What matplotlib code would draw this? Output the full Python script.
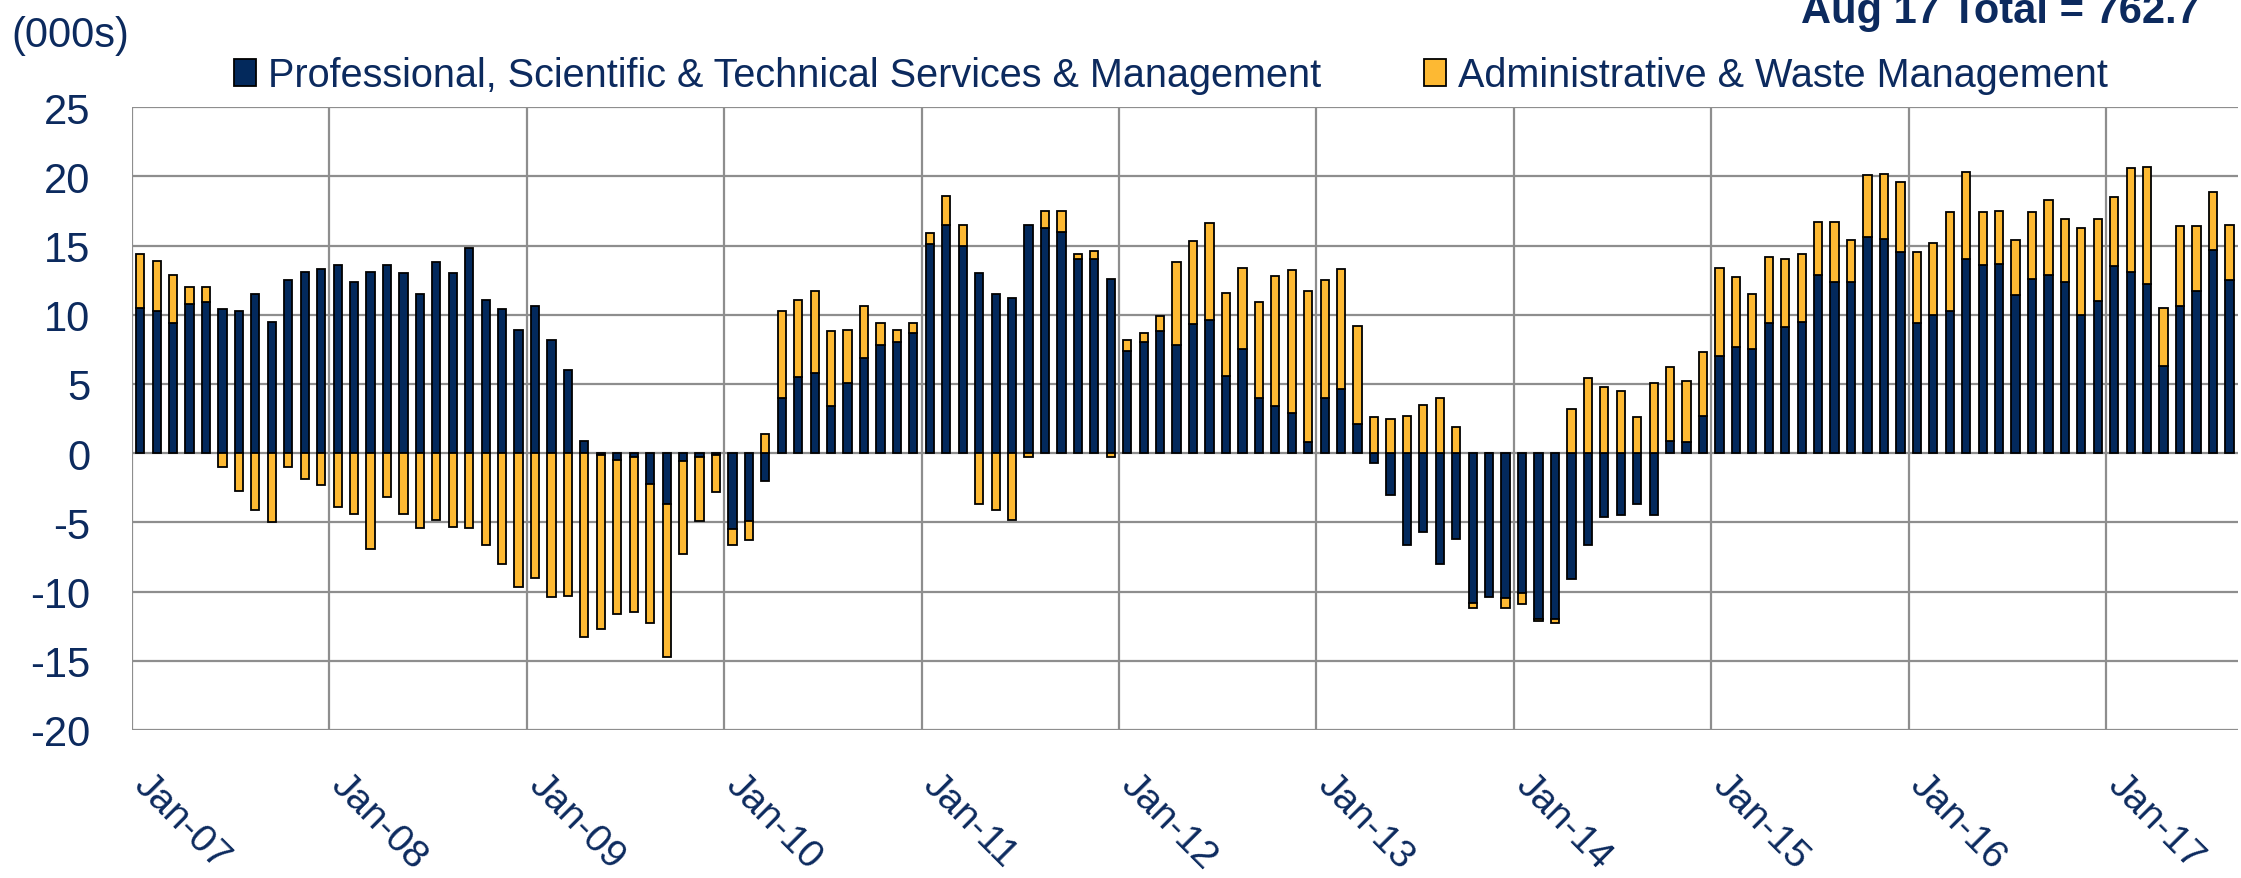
import matplotlib.pyplot as plt
import matplotlib.transforms as mtransforms
import numpy as np

plt.rcParams['font.family'] = ['Liberation Sans', 'DejaVu Sans']
plt.rcParams['axes.unicode_minus'] = False

# monthly change, thousands (Jan-07 .. Aug-17)
prof = [
    10.5, 10.3, 9.4, 10.8, 10.9, 10.4, 10.3, 11.5, 9.5, 12.5, 13.1, 13.3,      # 2007
    13.6, 12.4, 13.1, 13.6, 13.0, 11.5, 13.8, 13.0, 14.8, 11.1, 10.4, 8.9,     # 2008
    10.6, 8.2, 6.0, 0.9, -0.1, -0.5, -0.3, -2.2, -3.7, -0.6, -0.3, -0.1,       # 2009
    -5.5, -4.9, -2.0, 4.0, 5.5, 5.8, 3.4, 5.1, 6.9, 7.8, 8.0, 8.7,             # 2010
    15.1, 16.5, 15.0, 13.0, 11.5, 11.2, 16.5, 16.3, 16.0, 14.0, 14.0, 12.6,    # 2011
    7.4, 8.0, 8.8, 7.8, 9.3, 9.6, 5.6, 7.5, 4.0, 3.4, 2.9, 0.8,                # 2012
    4.0, 4.6, 2.1, -0.7, -3.0, -6.6, -5.7, -8.0, -6.2, -10.8, -10.4, -10.5,    # 2013
    -10.1, -12.0, -12.0, -9.1, -6.6, -4.6, -4.5, -3.7, -4.5, 0.9, 0.8, 2.7,    # 2014
    7.0, 7.7, 7.5, 9.4, 9.1, 9.5, 12.9, 12.4, 12.4, 15.6, 15.5, 14.5,          # 2015
    9.4, 10.0, 10.3, 14.0, 13.6, 13.7, 11.4, 12.6, 12.9, 12.4, 10.0, 11.0,     # 2016
    13.5, 13.1, 12.2, 6.3, 10.6, 11.7, 14.7, 12.5,                             # 2017
]
admin = [
    3.9, 3.6, 3.5, 1.2, 1.1, -1.0, -2.7, -4.1, -5.0, -1.0, -1.9, -2.3,
    -3.9, -4.4, -6.9, -3.2, -4.4, -5.4, -4.8, -5.3, -5.4, -6.6, -8.0, -9.7,
    -9.0, -10.4, -10.3, -13.3, -12.6, -11.1, -11.2, -10.1, -11.0, -6.7, -4.6, -2.7,
    -1.1, -1.4, 1.4, 6.3, 5.6, 5.9, 5.4, 3.8, 3.7, 1.6, 0.9, 0.7,
    0.8, 2.1, 1.5, -3.7, -4.1, -4.8, -0.3, 1.2, 1.5, 0.4, 0.6, -0.3,
    0.8, 0.7, 1.1, 6.0, 6.0, 7.0, 6.0, 5.9, 6.9, 9.4, 10.3, 10.9,
    8.5, 8.7, 7.1, 2.6, 2.5, 2.7, 3.5, 4.0, 1.9, -0.4, 0.0, -0.7,
    -0.8, -0.1, -0.3, 3.2, 5.4, 4.8, 4.5, 2.6, 5.1, 5.3, 4.4, 4.6,
    6.4, 5.0, 4.0, 4.8, 4.9, 4.9, 3.8, 4.3, 3.0, 4.5, 4.7, 5.1,
    5.1, 5.2, 7.1, 6.3, 3.8, 3.8, 4.0, 4.8, 5.4, 4.5, 6.3, 5.9,
    5.0, 7.5, 8.5, 4.2, 5.8, 4.7, 4.2, 4.0,
]
year_labels = ['Jan-07', 'Jan-08', 'Jan-09', 'Jan-10', 'Jan-11', 'Jan-12',
               'Jan-13', 'Jan-14', 'Jan-15', 'Jan-16', 'Jan-17']
series_names = ['Professional, Scientific & Technical Services & Management',
                'Administrative & Waste Management']
total_note = 'Aug 17 Total = 762.7'

NAVY = '#03295c'
GOLD = '#fdb933'
TXT = '#0c2a5e'
GRID = '#8e8e8e'

prof = np.array(prof)
admin = np.array(admin)
x = np.arange(len(prof))
# stack positives upward and negatives downward, like Excel does
admin_bottom = np.where(prof * admin > 0, prof, 0.0)

fig = plt.figure(figsize=(22.41, 8.79), dpi=100)
ax = fig.add_axes([0.0589, 0.1684, 0.9396, 0.7086])

ax.bar(x, prof, width=0.5, color=NAVY, edgecolor='black', linewidth=1.3,
       label=series_names[0], zorder=3)
ax.bar(x, admin, width=0.5, bottom=admin_bottom, color=GOLD, edgecolor='black',
       linewidth=1.3, label=series_names[1], zorder=3)

ax.set_xlim(-0.5, len(prof) - 0.5)
ax.set_ylim(-20, 25)
ax.set_yticks(np.arange(-20, 26, 5))
ax.set_xticks(np.arange(len(year_labels)) * 12 - 0.5)
ax.set_xticklabels(year_labels, rotation=-45, ha='left', va='top',
                   rotation_mode='anchor', fontsize=28)
ax.tick_params(axis='both', length=0, labelcolor=TXT)
ax.tick_params(axis='y', labelsize=30, pad=30)
ax.tick_params(axis='x', pad=26)
shift = mtransforms.ScaledTranslation(20 / 100, 0, fig.dpi_scale_trans)
for lab in ax.get_xticklabels():
    lab.set_transform(lab.get_transform() + shift)
ax.grid(True, color=GRID, linewidth=1.6, zorder=0)
for s in ax.spines.values():
    s.set_visible(False)

fig.text(0.005, 0.959, '(000s)', fontsize=30, color=TXT, ha='left', va='center')
fig.text(0.9815, 0.974, total_note, fontsize=30, color=TXT, fontweight='bold',
         ha='right', va='baseline')

fig.legend(loc='center', bbox_to_anchor=(0.5225, 0.913), ncol=2, frameon=False,
           fontsize=28.5, labelcolor=TXT, handlelength=0.55, handleheight=0.7,
           handletextpad=0.3, columnspacing=2.6)

fig.savefig('out.png', dpi=100)
